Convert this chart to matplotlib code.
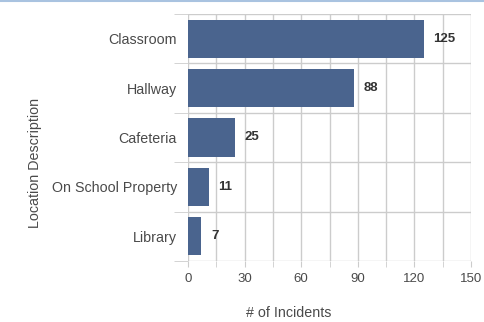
import matplotlib
matplotlib.use("Agg")
import matplotlib.pyplot as plt
from matplotlib.lines import Line2D

categories = ["Classroom", "Hallway", "Cafeteria", "On School Property", "Library"]
values = [125, 88, 25, 11, 7]
xticks = [0, 30, 60, 90, 120, 150]

plt.rcParams['font.family'] = ['Liberation Sans', 'DejaVu Sans']

fig = plt.figure(figsize=(4.84, 3.22), dpi=100)
ax = fig.add_axes([188 / 484, 1 - 261 / 322, (471 - 188) / 484, (261 - 14) / 322])

n = len(categories)
ypos = list(range(n))
bar_color = "#4a648e"
ax.barh(ypos, values, height=0.77, color=bar_color, zorder=3)
ax.set_ylim(n - 0.5, -0.5)
ax.set_xlim(0, 150)

grid_c = "#cccccc"
for v in range(0, 151, 15):
    ax.axvline(v, color=grid_c, lw=1, zorder=1)
for b in range(n + 1):
    ax.axhline(b - 0.5, color=grid_c, lw=1, zorder=1)

fs_num = 9.5
fs_txt = 10.3
txt_c = "#4a4a4a"
ax.set_xticks(xticks)
ax.set_xticks(list(range(15, 151, 30)), minor=True)
ax.set_xticklabels([str(t) for t in xticks], fontsize=fs_num, color=txt_c)
ax.tick_params(axis='x', which='both', length=4, color=grid_c, pad=5)

ax.set_yticks([y - 0.5 for y in range(n + 1)], minor=True)
ax.set_yticks(ypos)
ax.set_yticklabels(categories, fontsize=fs_txt, color=txt_c)
ax.tick_params(axis='y', which='major', length=0, pad=8)
ax.tick_params(axis='y', which='minor', length=10, color=grid_c)

for s in ax.spines.values():
    s.set_visible(False)

for y, v in zip(ypos, values):
    ax.annotate(str(v), (v, y), xytext=(7, 0), textcoords='offset points',
                va='center', ha='left', fontsize=fs_num, fontweight='bold', color="#333333")

fig.text(289 / 484, 1 - 313 / 322, "# of Incidents", ha='center', va='center',
         fontsize=fs_txt, color=txt_c)
fig.text(35 / 484, 1 - 163 / 322, "Location Description", ha='center', va='center',
         rotation=90, fontsize=fs_txt, color=txt_c)

fig.add_artist(Line2D([0, 1], [1 - 0.5 / 322, 1 - 0.5 / 322], transform=fig.transFigure,
                      color="#a9c3e0", lw=1.5))

fig.savefig("out.png", dpi=100)
